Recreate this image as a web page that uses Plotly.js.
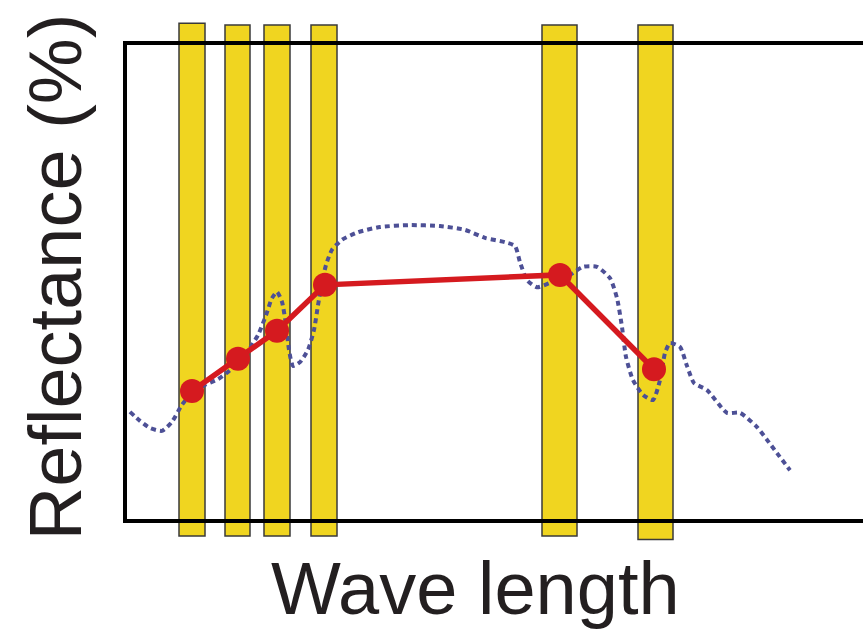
<!DOCTYPE html>
<html>
<head>
<meta charset="utf-8">
<script src="https://cdn.plot.ly/plotly-3.0.1.min.js"></script>
<style>html,body{margin:0;padding:0;background:#fff;}#chart{width:863px;height:633px;}</style>
</head>
<body>
<div id="chart"></div>
<script>
// Band (yellow bar) data: center wavelength and width (x units)
const bandCenters = [65, 110.5, 150, 197, 432.5, 528.5];
const bandWidths  = [26, 25, 26, 26, 35, 35];

// Band reflectance (red line)
const bandX = [65, 111, 150, 198, 433, 527];
const bandY = [27.0, 33.8, 39.7, 49.4, 51.5, 31.6];

// Continuous spectrum (dotted blue)
const specX = [3, 13, 23, 35, 45, 55, 65, 78, 91, 103, 118, 131, 139, 145, 150, 155, 159, 162, 166,
  173, 181, 187, 191, 195, 199, 205, 215, 231, 253, 283, 313, 338, 358, 378, 388, 393, 400, 410,
  423, 440, 456, 470, 483, 490, 495, 499, 506, 516, 526, 533, 538, 543, 553, 560, 567, 580, 600,
  613, 630, 640, 650, 663];
const specY = [22.6, 20.7, 19.2, 18.6, 20.5, 24.1, 26.6, 28.3, 29.5, 31.4, 34.6, 38.8, 43.0, 46.6,
  47.9, 45.8, 40.9, 35.7, 32.3, 33.1, 35.7, 39.9, 45.1, 49.8, 53.6, 56.8, 58.9, 60.5, 61.6, 62.0,
  61.8, 61.0, 59.3, 58.4, 57.6, 54.2, 50.4, 48.9, 49.8, 51.1, 53.2, 53.2, 50.8, 46.6, 40.5, 34.2,
  29.3, 26.2, 25.1, 29.3, 35.0, 37.1, 36.3, 32.3, 28.7, 27.2, 22.4, 22.4, 19.4, 16.7, 13.9, 10.3];

const xTitle = "Wave length";
const yTitle = "Reflectance (%)";

// yellow bands drawn as shapes so they can extend past the frame
const bandShapes = bandCenters.map((c, i) => ({
  type: 'rect', layer: 'below',
  xref: 'x', yref: 'paper',
  x0: c - bandWidths[i] / 2, x1: c + bandWidths[i] / 2,
  y0: i === bandCenters.length - 1 ? -0.043 : -0.036,
  y1: i === 0 ? 1.046 : 1.042,
  fillcolor: '#f0d520',
  line: {color: '#3a3a3a', width: 1.5}
}));

const traces = [
  {
    type: 'scatter', mode: 'lines', x: specX, y: specY,
    line: {color: '#4d5096', width: 4, dash: '5px,4px', shape: 'spline', smoothing: 0.6},
    hoverinfo: 'skip', showlegend: false
  },
  {
    type: 'scatter', mode: 'lines+markers', x: bandX, y: bandY,
    line: {color: '#d51a1f', width: 5.5},
    marker: {color: '#d51a1f', size: 24},
    cliponaxis: false, showlegend: false
  }
];

const font = {family: '"Liberation Sans", Arial, sans-serif', color: '#231f20', size: 74};

const layout = {
  width: 863, height: 633,
  margin: {l: 127, r: 0, t: 45, b: 114, pad: 0},
  paper_bgcolor: '#ffffff', plot_bgcolor: 'rgba(0,0,0,0)',
  showlegend: false,
  xaxis: {range: [0, 736], showgrid: false, zeroline: false, showticklabels: false, ticks: '',
          showline: true, mirror: true, linecolor: '#000', linewidth: 4, fixedrange: true},
  yaxis: {range: [0, 100], showgrid: false, zeroline: false, showticklabels: false, ticks: '',
          showline: true, mirror: false, linecolor: '#000', linewidth: 4, fixedrange: true},
  shapes: bandShapes,
  annotations: [
    {text: xTitle, xref: 'paper', yref: 'paper', x: 0.473, y: -0.146, xanchor: 'center', yanchor: 'middle',
     showarrow: false, font: font},
    {text: yTitle, xref: 'paper', yref: 'paper', x: -0.098, y: 0.510, xanchor: 'center', yanchor: 'middle',
     textangle: -90, showarrow: false, font: font}
  ]
};

Plotly.newPlot('chart', traces, layout, {displayModeBar: false, staticPlot: true});
</script>
</body>
</html>
